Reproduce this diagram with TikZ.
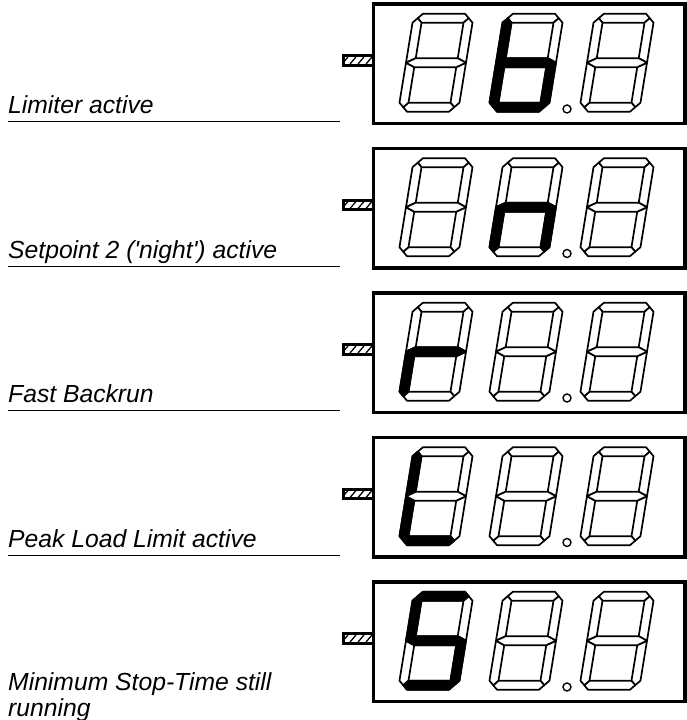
\documentclass[tikz,border=0pt]{standalone}
\usepackage{fontspec}
\setmainfont{Liberation Sans}
\begin{document}
\begin{tikzpicture}[x=1pt,y=1pt,
  seg/.style={draw=black, line width=1.7pt, line join=round, fill=white},
  segon/.style={draw=black, line width=1.7pt, line join=round, fill=black},
  % seven-segment outlines in an upright 60 x 98 cell, segment width 9
  segA/.style={insert path={(4.5,93.5) -- (9,98) -- (51,98) -- (55.5,93.5) -- (51,89) -- (9,89) -- cycle}},
  segB/.style={insert path={(60,49) -- (51,53.5) -- (51,89) -- (55.5,93.5) -- (60,89) -- cycle}},
  segC/.style={insert path={(60,49) -- (51,44.5) -- (51,9) -- (55.5,4.5) -- (60,9) -- cycle}},
  segD/.style={insert path={(4.5,4.5) -- (9,0) -- (51,0) -- (55.5,4.5) -- (51,9) -- (9,9) -- cycle}},
  segE/.style={insert path={(0,49) -- (9,44.5) -- (9,9) -- (4.5,4.5) -- (0,9) -- cycle}},
  segF/.style={insert path={(0,49) -- (9,53.5) -- (9,89) -- (4.5,93.5) -- (0,89) -- cycle}},
  segG/.style={insert path={(0,49) -- (9,53.5) -- (51,53.5) -- (60,49) -- (51,44.5) -- (9,44.5) -- cycle}},
  frame/.style={draw=black, line width=3.5pt},
  ledbox/.style={draw=black, line width=3pt, fill=white},
  hatch/.style={draw=black, line width=1.3pt},
  dp/.style={draw=black, line width=1.4pt, fill=white},
  lbl/.style={anchor=base west, inner sep=0pt, font=\fontsize{24.7}{28}\selectfont\itshape},
  rule/.style={draw=black, line width=1pt}]
\useasboundingbox (0,0) rectangle (687,720);

% unlit digit: all segments hollow
\newcommand\digitoff[2]{%
  \begin{scope}[shift={(#1,#2)}, xslant=0.163]
    \foreach \s in {A,B,C,D,E,F,G} {\path[seg, seg\s];}
  \end{scope}}
% digit with the listed segments filled
\newcommand\digiton[3]{%
  \begin{scope}[shift={(#1,#2)}, xslant=0.163]
    \foreach \s in {A,B,C,D,E,F,G} {\path[seg, seg\s];}
    \foreach \s in {#3} {\path[segon, seg\s];}
  \end{scope}}

% one display: frame, status LED, three digits, decimal point
% #1 = vertical offset, #2 = first digit, #3 = second digit
\newcommand\display[3]{%
  \begin{scope}[yshift=-#1]
    % LED
    \path[ledbox] (343.7,664) rectangle (373.7,654.7);
    \begin{scope}
      \clip (345.2,662.5) rectangle (372.3,656.2);
      \foreach \hx in {342,350,358,366,374} {\draw[hatch] (\hx,656) -- (\hx+6,663);}
    \end{scope}
    \draw[frame] (373.7,716.2) rectangle (685,596.7);
    #2
    #3
    \digitoff{579}{608.3}
    \path[dp] (567,611) circle (4);
  \end{scope}}

\display{0pt}{\digitoff{398}{608.3}}{\digiton{488}{608.3}{C,D,E,F,G}}
\display{144.5pt}{\digitoff{398}{608.3}}{\digiton{488}{608.3}{C,E,G}}
\display{289pt}{\digiton{398}{608.3}{E,G}}{\digitoff{488}{608.3}}
\display{433.5pt}{\digiton{398}{608.3}{D,E,F}}{\digitoff{488}{608.3}}
\display{578pt}{\digiton{398}{608.3}{A,C,D,F,G}}{\digitoff{488}{608.3}}

% captions
\node[lbl] (l1) at (8,606) {Limiter active};
\draw[rule] (8,598) -- (340,598);
\node[lbl] (l2) at (8,461.5) {Setpoint 2 (\textquotesingle night\textquotesingle) active};
\draw[rule] (8,453.5) -- (340,453.5);
\node[lbl] (l3) at (8,317) {Fast Backrun};
\draw[rule] (8,309) -- (340,309);
\node[lbl] (l4) at (8,172.5) {Peak Load Limit active};
\draw[rule] (8,164.5) -- (340,164.5);
\node[lbl] (l5a) at (8,29) {Minimum Stop-Time still};
\node[lbl] (l5b) at (8,3) {running};
\end{tikzpicture}
\end{document}
